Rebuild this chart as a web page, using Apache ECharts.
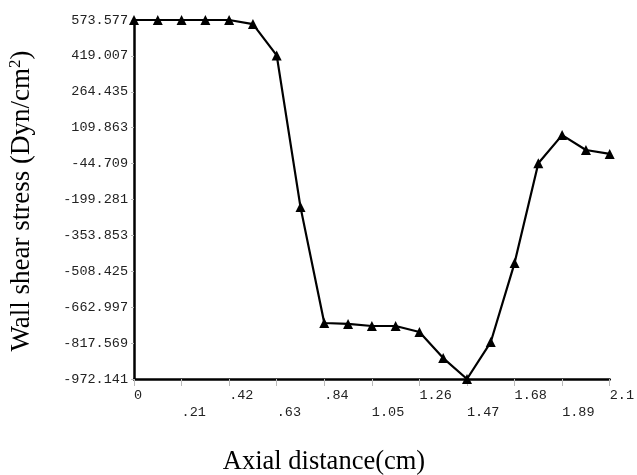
<!DOCTYPE html>
<html>
<head>
<meta charset="utf-8">
<script src="https://cdn.jsdelivr.net/npm/echarts@6/dist/echarts.min.js"></script>
<style>html,body{margin:0;padding:0;background:#fff;}#c{width:637px;height:475px;}</style>
</head>
<body>
<div id="c"></div>
<script>
const xValues = [0, 0.105, 0.21, 0.315, 0.42, 0.525, 0.63, 0.735, 0.84, 0.945, 1.05, 1.155, 1.26, 1.365, 1.47, 1.575, 1.68, 1.785, 1.89, 1.995, 2.1];
const stressValues = [573.577, 573.577, 573.577, 573.577, 573.577, 556, 421, -232, -731, -735, -744, -744, -770, -882, -972.141, -813, -473, -43, 78, 14, -3];
const xTickValues = [0, 0.21, 0.42, 0.63, 0.84, 1.05, 1.26, 1.47, 1.68, 1.89, 2.1];
const xTickLabels = ['0', '.21', '.42', '.63', '.84', '1.05', '1.26', '1.47', '1.68', '1.89', '2.1'];
const yTickValues = [-972.141, -817.569, -662.997, -508.425, -353.853, -199.281, -44.709, 109.863, 264.435, 419.007, 573.577];
const yTickLabels = ['-972.141', '-817.569', '-662.997', '-508.425', '-353.853', '-199.281', '-44.709', '109.863', '264.435', '419.007', '573.577'];

const chart = echarts.init(document.getElementById('c'));
const monoFont = '"Liberation Mono", "DejaVu Sans Mono", monospace';
const serifFont = '"Liberation Serif", "DejaVu Serif", serif';

function nearestIndex(arr, v) {
  let best = 0, bd = Infinity;
  arr.forEach((a, i) => { const d = Math.abs(a - v); if (d < bd) { bd = d; best = i; } });
  return best;
}

chart.setOption({
  animation: false,
  backgroundColor: '#fff',
  grid: { left: 134, right: 23, top: 20, bottom: 96, containLabel: false },
  xAxis: {
    type: 'value',
    min: 0, max: 2.1,
    splitLine: { show: false },
    axisLine: { show: true, onZero: false, lineStyle: { color: '#000', width: 2.5 } },
    axisTick: { show: true, customValues: xTickValues, length: 7, lineStyle: { color: '#bbb', width: 1 } },
    axisLabel: {
      show: true,
      customValues: xTickValues,
      margin: 8,
      align: 'left',
      fontFamily: monoFont,
      fontSize: 13.5,
      color: '#222',
      lineHeight: 17,
      formatter: function (v) {
        const i = nearestIndex(xTickValues, v);
        return (i % 2 === 1 ? '\n' : '') + xTickLabels[i];
      }
    }
  },
  yAxis: {
    type: 'value',
    min: -972.141, max: 573.577,
    splitLine: { show: false },
    axisLine: { show: true, onZero: false, lineStyle: { color: '#000', width: 2.5 } },
    axisTick: { show: true, customValues: yTickValues, length: 3, lineStyle: { color: '#bbb', width: 1 } },
    axisLabel: {
      show: true,
      customValues: yTickValues,
      margin: 6,
      fontFamily: monoFont,
      fontSize: 13.5,
      color: '#222',
      padding: [0, 0, 8, 0],
      formatter: function (v) {
        return yTickLabels[nearestIndex(yTickValues, v)];
      }
    }
  },
  series: [{
    type: 'line',
    data: xValues.map((x, i) => [x, stressValues[i]]),
    symbol: 'triangle',
    symbolSize: 10,
    showAllSymbol: true,
    clip: false,
    lineStyle: { color: '#000', width: 2.2 },
    itemStyle: { color: '#000' }
  }],
  graphic: [
    {
      type: 'text',
      x: 324, y: 462,
      style: {
        text: 'Axial distance(cm)',
        font: '26.5px ' + serifFont,
        fill: '#000',
        align: 'center',
        verticalAlign: 'middle'
      }
    },
    {
      type: 'text',
      x: 22, y: 201,
      rotation: Math.PI / 2,
      style: {
        text: 'Wall shear stress (Dyn/cm{sup|2})',
        fontFamily: serifFont,
        fontSize: 27,
        fill: '#000',
        align: 'center',
        verticalAlign: 'middle',
        rich: {
          sup: { fontFamily: serifFont, fontSize: 17, fill: '#000', verticalAlign: 'top', padding: [0, 0, 13, 0] }
        }
      }
    }
  ]
});
</script>
</body>
</html>
